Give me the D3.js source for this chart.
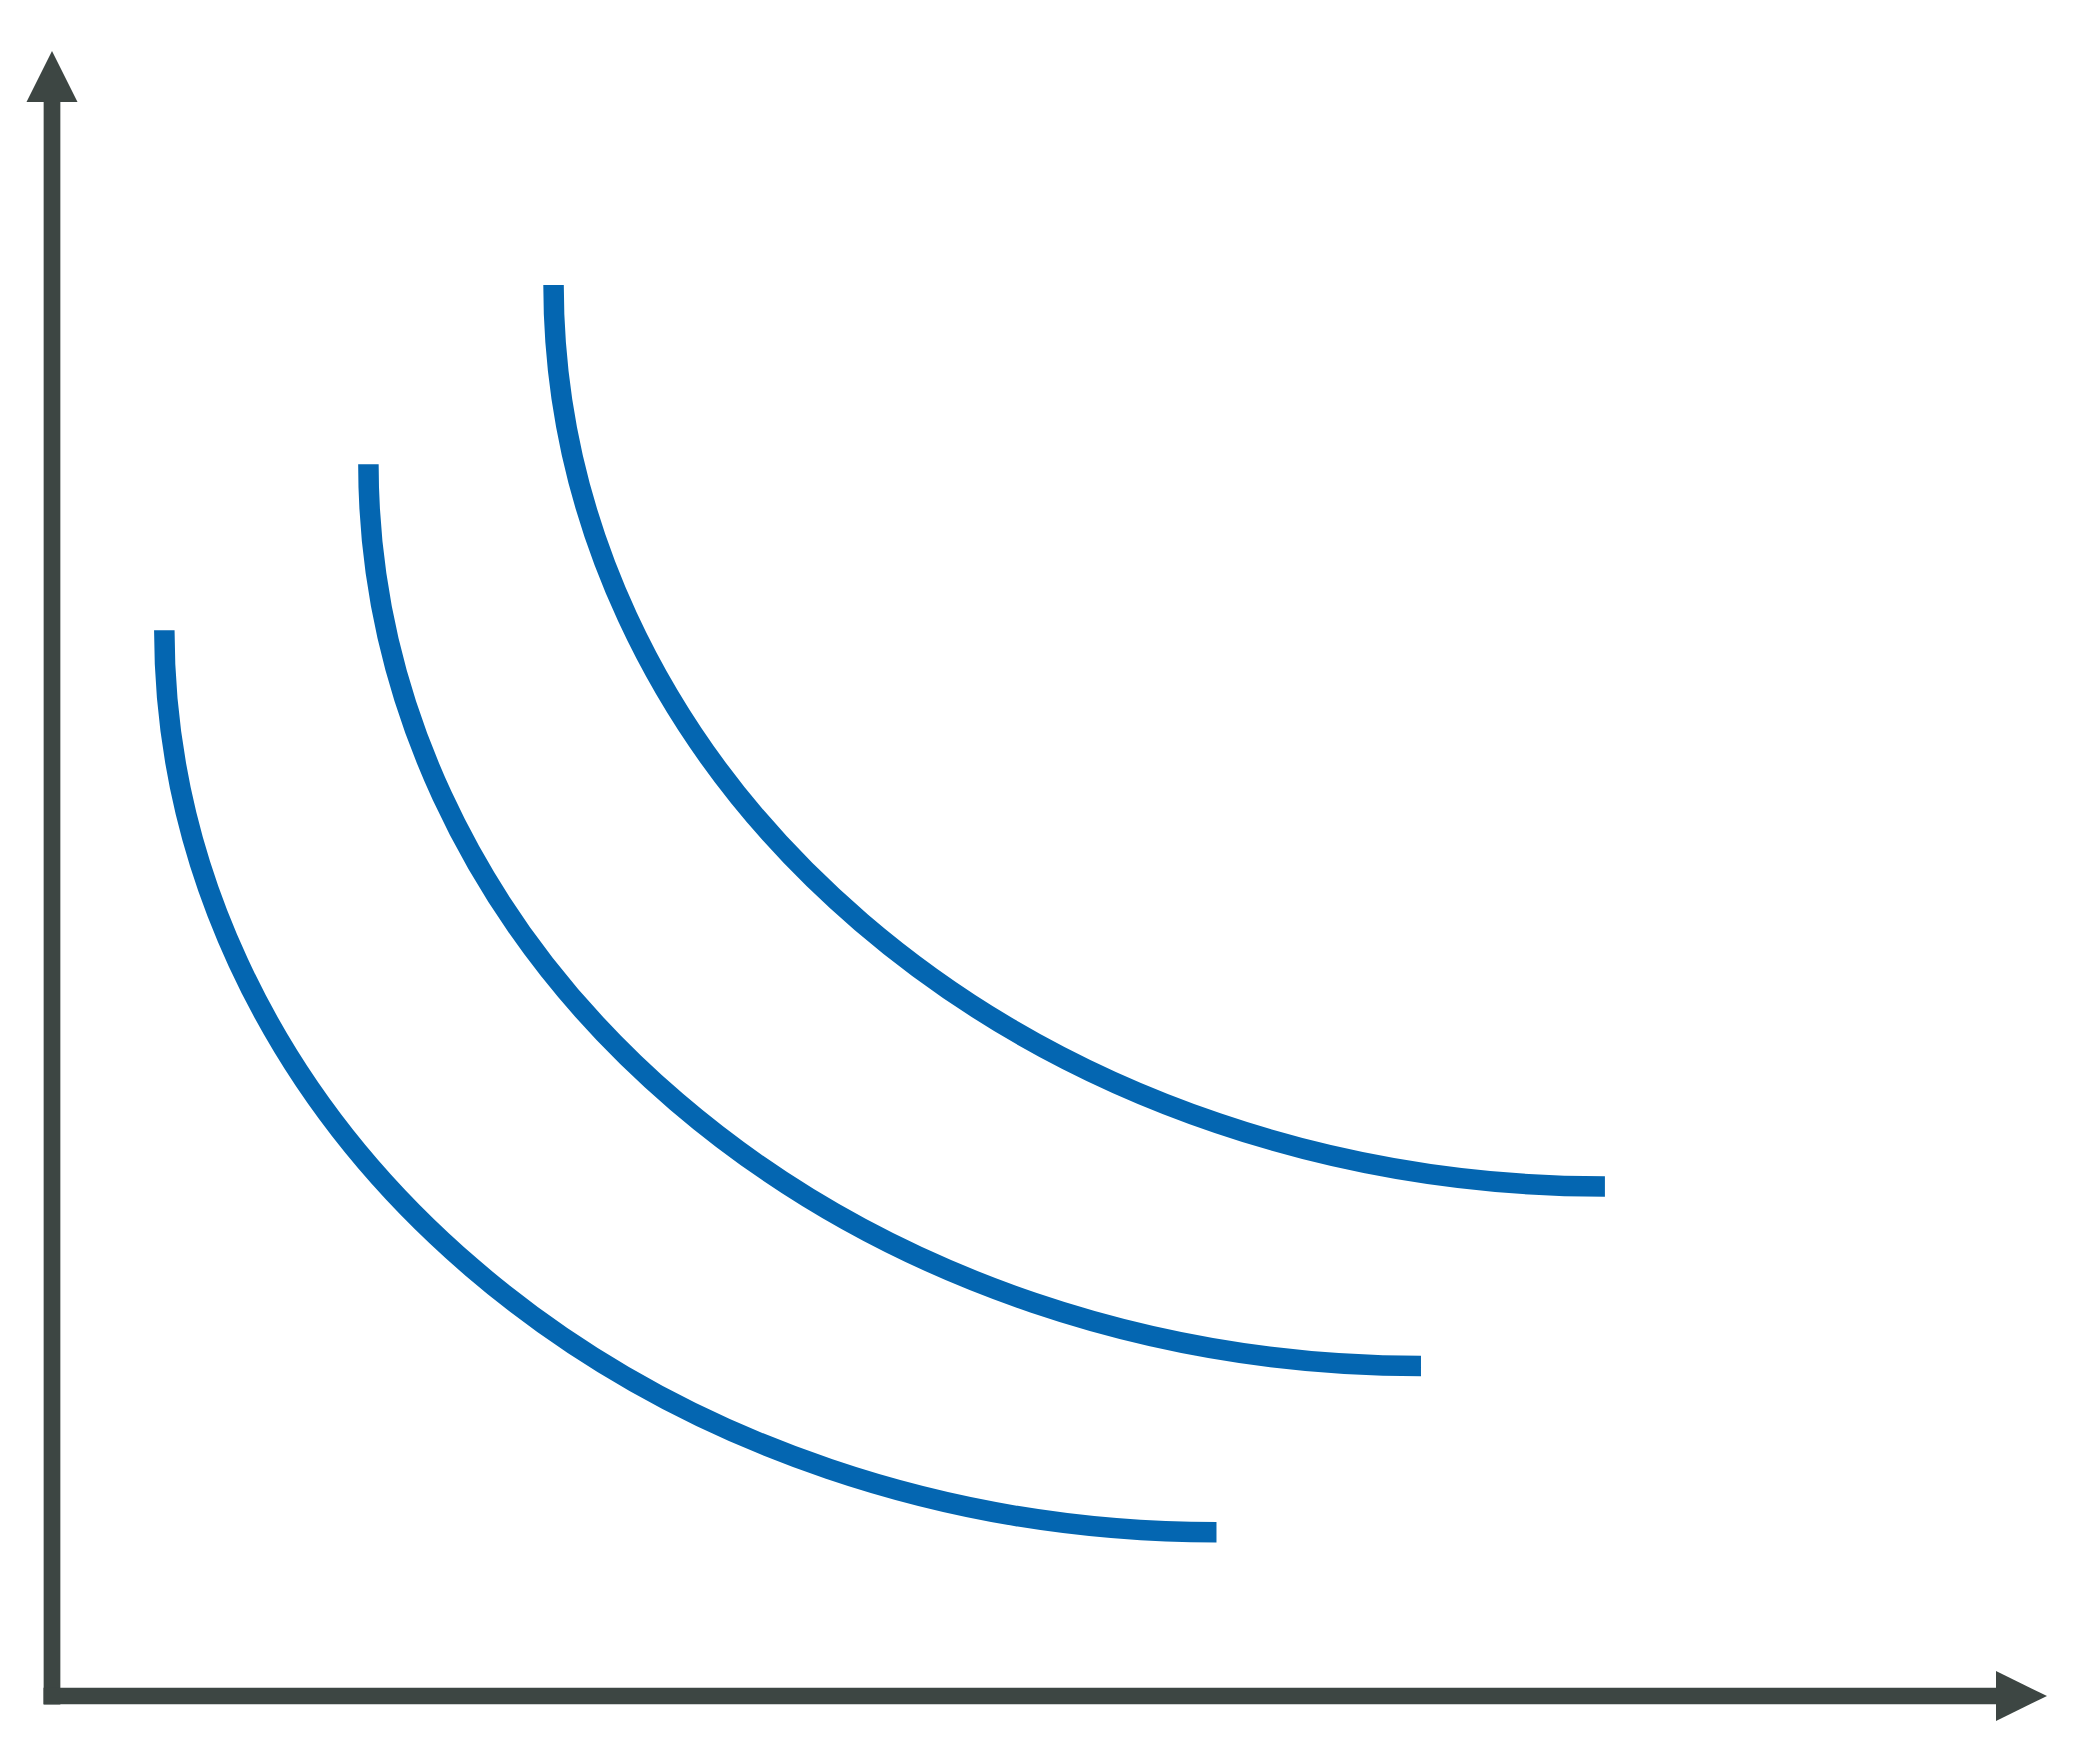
<!DOCTYPE html>
<meta charset="utf-8">
<style>
  body { margin: 0; background: #fff; }
</style>
<script src="https://d3js.org/d3.v7.min.js"></script>
<div id="my_dataviz"></div>
<script>

// three indifference-type curves, start (top) and end (right) points in axis units 0..100
var curveNames = ["U1", "U2", "U3"];
var startX = [5.63, 15.86, 25.14];
var startY = [64.78, 74.88, 85.78];
var endX = [58.37, 68.62, 77.84];
var endY = [9.95, 20.06, 30.97];

var width = 2099, height = 1748;
var axisColor = "#3d4643", curveColor = "#0466b1";

var svg = d3.select("#my_dataviz")
  .append("svg")
    .attr("width", width)
    .attr("height", height);

// axis 0..100 on both directions, 100 is the arrow tip
var x = d3.scaleLinear().domain([0, 100]).range([52, 2047]);
var y = d3.scaleLinear().domain([0, 100]).range([1696, 51]);

var head = 51;

// y axis line + arrow
svg.append("line")
  .attr("x1", x(0)).attr("x2", x(0))
  .attr("y1", y(0) + 8.5).attr("y2", y(100) + head)
  .attr("stroke", axisColor)
  .attr("stroke-width", 16.7);
svg.append("path")
  .attr("d", "M" + x(0) + "," + y(100) +
             "L" + (x(0) + 25.5) + "," + (y(100) + head) +
             "L" + (x(0) - 25.5) + "," + (y(100) + head) + "Z")
  .attr("fill", axisColor);

// x axis line + arrow
svg.append("line")
  .attr("x1", x(0) - 8.5).attr("x2", x(100) - head)
  .attr("y1", y(0)).attr("y2", y(0))
  .attr("stroke", axisColor)
  .attr("stroke-width", 16.7);
svg.append("path")
  .attr("d", "M" + x(100) + "," + y(0) +
             "L" + (x(100) - head) + "," + (y(0) - 25) +
             "L" + (x(100) - head) + "," + (y(0) + 25) + "Z")
  .attr("fill", axisColor);

// curves as quarter ellipses (vertical at the start, flat at the end)
var curves = curveNames.map(function(n, i) {
  return {name: n, x0: startX[i], y0: startY[i], x1: endX[i], y1: endY[i]};
});

svg.selectAll("path.curve")
  .data(curves)
  .enter()
  .append("path")
    .attr("class", "curve")
    .attr("d", function(d) {
      var sx = x(d.x0), sy = y(d.y0), ex = x(d.x1), ey = y(d.y1);
      var rx = ex - sx, ry = ey - sy;
      return "M" + sx + "," + sy + "A" + rx + "," + ry + " 0 0 0 " + ex + "," + ey;
    })
    .attr("fill", "none")
    .attr("stroke", curveColor)
    .attr("stroke-width", 20.5)
    .attr("stroke-linecap", "butt");

</script>
